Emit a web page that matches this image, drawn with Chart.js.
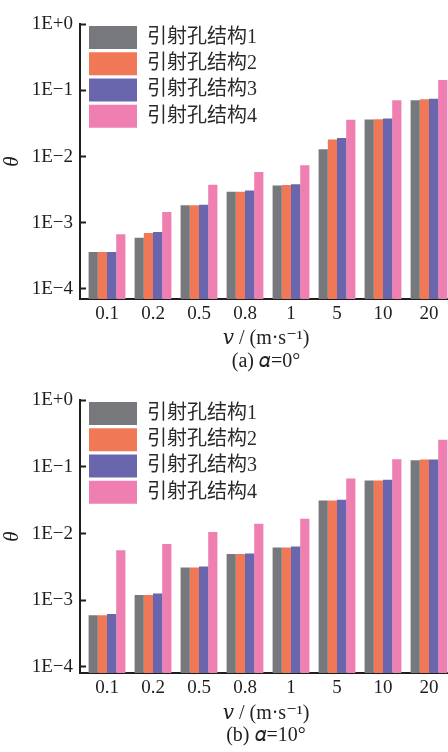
<!DOCTYPE html>
<html>
<head>
<meta charset="utf-8">
<script src="https://cdn.jsdelivr.net/npm/chart.js@4.4.0/dist/chart.umd.min.js"></script>
<style>
  html, body { margin: 0; padding: 0; background: #fff; overflow: hidden; }
  #wrap { width: 448px; height: 752px; overflow: hidden; }
  canvas { display: block; }
</style>
</head>
<body>
<div id="wrap">
  <canvas id="chartA" width="460" height="376"></canvas>
  <canvas id="chartB" width="460" height="376"></canvas>
</div>
<script>
// wind speed categories (x axis)
const categories = ['0.1', '0.2', '0.5', '0.8', '1', '5', '10', '20'];
const seriesNames = ['引射孔结构1', '引射孔结构2', '引射孔结构3', '引射孔结构4'];
const seriesColors = ['#77787c', '#f17857', '#6a66ae', '#ee7fb0'];

// (a) alpha = 0
const a1 = [3.6e-4, 5.9e-4, 1.83e-3, 2.93e-3, 3.65e-3, 1.29e-2, 3.64e-2, 7.1e-2];
const a2 = [3.6e-4, 7.0e-4, 1.83e-3, 2.93e-3, 3.70e-3, 1.82e-2, 3.67e-2, 7.35e-2];
const a3 = [3.6e-4, 7.2e-4, 1.87e-3, 3.06e-3, 3.83e-3, 1.91e-2, 3.76e-2, 7.52e-2];
const a4 = [6.7e-4, 1.45e-3, 3.74e-3, 5.83e-3, 7.37e-3, 3.60e-2, 7.1e-2, 0.1436];

// (b) alpha = 10
const b1 = [5.95e-4, 1.20e-3, 3.10e-3, 4.92e-3, 6.18e-3, 3.15e-2, 6.26e-2, 0.1264];
const b2 = [5.95e-4, 1.20e-3, 3.10e-3, 4.92e-3, 6.18e-3, 3.15e-2, 6.26e-2, 0.1294];
const b3 = [6.22e-4, 1.26e-3, 3.21e-3, 5.04e-3, 6.39e-3, 3.22e-2, 6.41e-2, 0.1294];
const b4 = [5.64e-3, 7.0e-3, 1.06e-2, 1.41e-2, 1.67e-2, 6.70e-2, 0.1307, 0.2576];

const yTickValues = [1e-4, 1e-3, 1e-2, 1e-1, 1];
const yTickLabels = ['1E\u22124', '1E\u22123', '1E\u22122', '1E\u22121', '1E+0'];

const serif = "'Liberation Serif', 'DejaVu Serif', 'Noto Sans CJK SC', serif";
const ink = '#1e1e1e';

// put the legend box at the top-left corner inside the plot
const legendNudge = {
    id: 'legendNudge',
    afterLayout(chart) {
        const lg = chart.legend;
        const area = chart.chartArea;
        lg.left = area.left + 9 - 3.3;
        lg.top = area.top + 1.5 - 3.3;
        lg.bottom = area.bottom;
    }
};

function makeChart(id, series, caption, cfg) {
    const ctx = document.getElementById(id).getContext('2d');
    return new Chart(ctx, {
        type: 'bar',
        data: {
            datasets: series.map((vals, k) => ({
                label: seriesNames[k],
                data: vals.map((v, i) => ({ x: i, y: v })),
                backgroundColor: seriesColors[k],
                borderWidth: 0
            }))
        },
        options: {
            responsive: false,
            animation: false,
            events: [],
            categoryPercentage: 0.8,
            barPercentage: 1,
            layout: { padding: { top: cfg.padTop, right: 8, bottom: 0, left: 0 } },
            scales: {
                x: {
                    type: 'linear',
                    offset: false,
                    min: -27 / 46,
                    max: 7.5,
                    z: 1,
                    afterBuildTicks: s => { s.ticks = categories.map((c, i) => ({ value: i })); },
                    afterFit: s => { s.height = cfg.xHeight; },
                    ticks: {
                        callback: (v, i) => categories[i],
                        color: ink,
                        font: { family: serif, size: 19 },
                        padding: 4,
                        maxRotation: 0,
                        autoSkip: false
                    },
                    grid: { display: false, drawTicks: false, offset: false },
                    border: { display: true, width: 2, color: ink },
                    title: {
                        display: true,
                        text: ['\u{1D463} / (m\u00B7s\u207B\u00B9)', caption],
                        color: ink,
                        font: { family: serif, size: 20, lineHeight: 1.13 },
                        padding: { top: 0, bottom: cfg.titlePad }
                    }
                },
                y: {
                    type: 'logarithmic',
                    min: cfg.yMin,
                    max: 1,
                    afterBuildTicks: s => { s.ticks = yTickValues.map(v => ({ value: v })); },
                    afterFit: s => { s.width = 80; },
                    ticks: {
                        callback: (v, i) => yTickLabels[i],
                        color: ink,
                        font: { family: serif, size: 19 },
                        padding: 13
                    },
                    grid: { drawOnChartArea: false, drawTicks: true, tickLength: -6, tickWidth: 2, color: ink },
                    border: { display: true, width: 2, color: ink },
                    title: {
                        display: true,
                        text: 'θ',
                        color: ink,
                        font: { family: serif, size: 21, style: 'italic' },
                        padding: 0
                    }
                }
            },
            plugins: {
                legend: {
                    position: 'chartArea',
                    align: 'start',
                    labels: {
                        boxWidth: 48,
                        boxHeight: 23,
                        padding: 3.3,
                        color: '#2a2a2a',
                        font: { family: serif, size: 20 }
                    }
                },
                tooltip: { enabled: false }
            }
        },
        plugins: [legendNudge]
    });
}

makeChart('chartA', [a1, a2, a3, a4], '(a) \u{1D6FC}=0°',
    { padTop: 14, xHeight: 77, titlePad: 3.25, yMin: 7.23e-5 });
makeChart('chartB', [b1, b2, b3, b4], '(b) \u{1D6FC}=10°',
    { padTop: 19, xHeight: 79, titlePad: 4.75, yMin: 8.07e-5 });
</script>
</body>
</html>
